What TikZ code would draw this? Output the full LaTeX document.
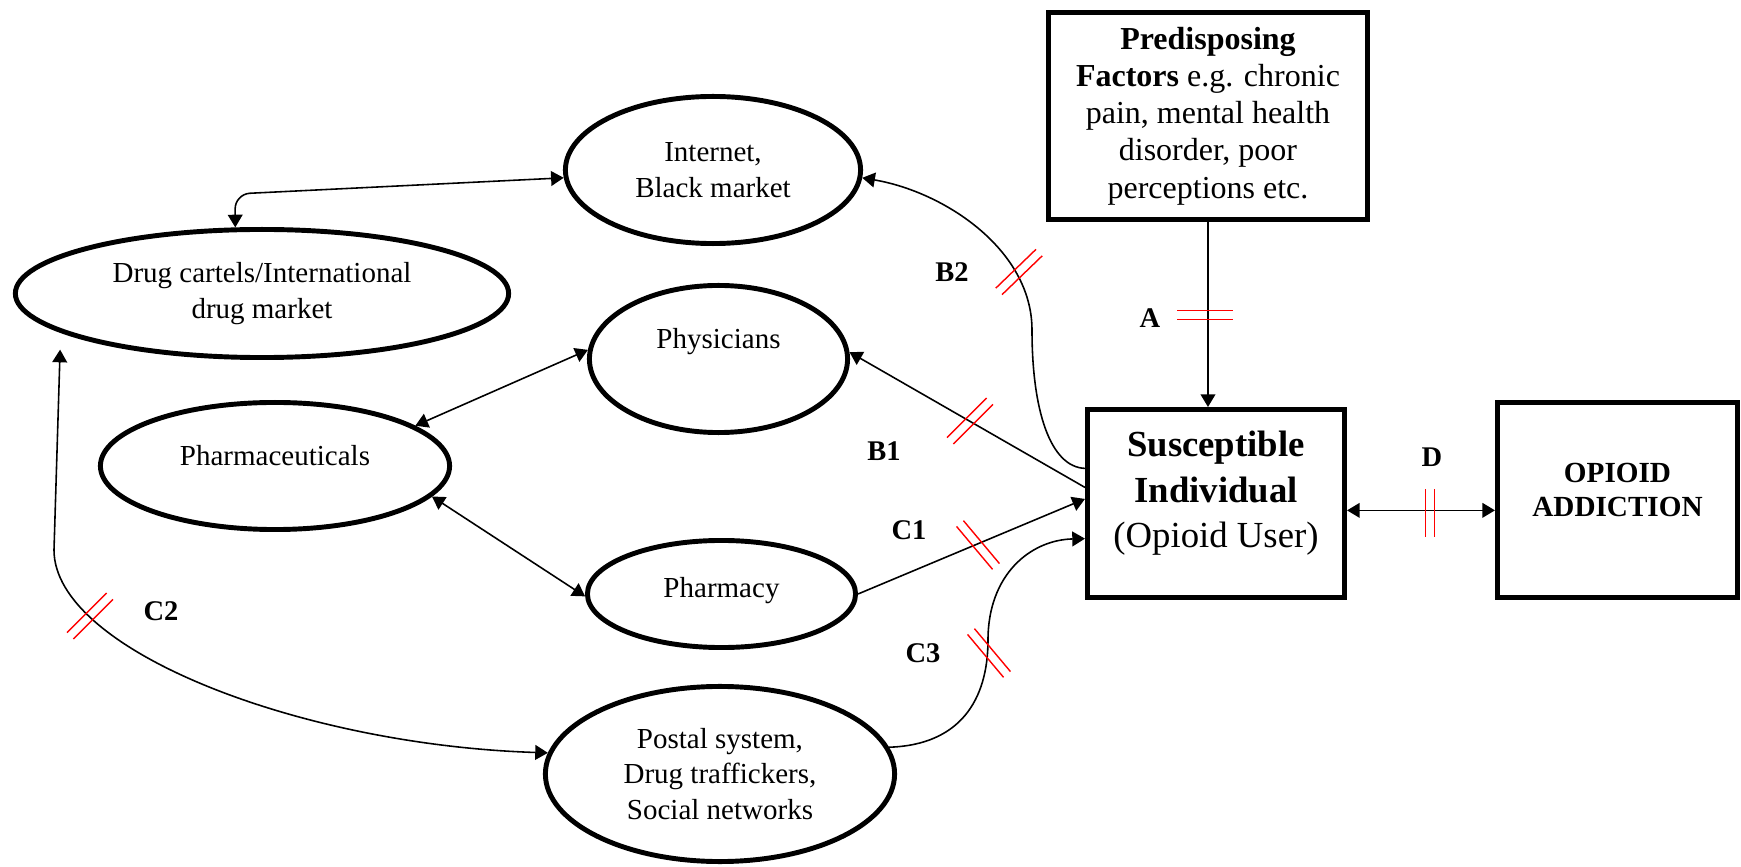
\documentclass[tikz,border=0pt]{standalone}
\usepackage{fontspec}
\setmainfont{Liberation Serif}
\usetikzlibrary{arrows.meta,shapes.geometric,calc}

\newcommand{\cutmark}[4][28]{%
  \draw[cut, shift={(#2,#3)}, rotate=#4] (-#1,-4.5) -- (#1,-4.5) (-#1,4.5) -- (#1,4.5);}

\begin{document}
\begin{tikzpicture}[x=0.01cm, y=-0.01cm,
    oval/.style = {ellipse, draw, line width=1.4pt, inner sep=1pt, align=center,
                   font=\fontsize{8.25}{10.2}\selectfont},
    box/.style = {rectangle, draw, line width=1.4pt, inner sep=1pt, align=center},
    tag/.style = {font=\bfseries\fontsize{8.1}{9.7}\selectfont},
    lift/.style = {text depth=#1},
    link/.style = {line width=0.45pt},
    cut/.style = {red, line width=0.4pt},
    >={Triangle[length=3.6pt, width=4.2pt]}]

  \useasboundingbox (0,0) rectangle (1741,867);

  % boxes
  \node[box, minimum width=3.19cm, minimum height=2.07cm,
        font=\fontsize{9.1}{10.6}\selectfont] (pre) at (1208,116)
        {\textbf{Predisposing}\\ \textbf{Factors} e.g. chronic\\ pain, mental health\\ disorder, poor\\ perceptions etc.};
  \node[box, minimum width=2.57cm, minimum height=1.88cm, lift=0.28cm,
        font=\fontsize{10.45}{12.9}\selectfont] (sus) at (1216,503.5)
        {\textbf{Susceptible}\\ \textbf{Individual}\\ (Opioid User)};
  \node[box, minimum width=2.40cm, minimum height=1.95cm, lift=0.21cm,
        font=\bfseries\fontsize{8.3}{9.7}\selectfont] (add) at (1617.5,500)
        {OPIOID\\ ADDICTION};

  % sources
  \node[oval, minimum width=2.95cm, minimum height=1.47cm] (net) at (713,170) {Internet,\\ Black market};
  \node[oval, minimum width=2.58cm, minimum height=1.47cm, lift=0.42cm] (phys) at (718.5,359) {Physicians};
  \node[oval, minimum width=4.93cm, minimum height=1.28cm] (cartel) at (262,293.5) {Drug cartels/International\\ drug market};
  \node[oval, minimum width=3.49cm, minimum height=1.27cm, lift=0.22cm] (pharma) at (275,466) {Pharmaceuticals};
  \node[oval, minimum width=2.68cm, minimum height=1.07cm, lift=0.14cm] (pharmacy) at (721.5,594) {Pharmacy};
  \node[oval, minimum width=3.49cm, minimum height=1.75cm] (postal) at (720,774) {Postal system,\\ Drug traffickers,\\ Social networks};

  % path labels
  \node[tag] (la) at (1150,318) {A};
  \node[tag] (lb1) at (884,451) {B1};
  \node[tag] (lb2) at (952,272) {B2};
  \node[tag] (lc1) at (909,530) {C1};
  \node[tag] (lc2) at (161,611) {C2};
  \node[tag] (lc3) at (923,653) {C3};
  \node[tag] (ld) at (1432,457) {D};

  % connectors
  \draw[link, ->] (pre.south) -- (pre.south |- sus.north);
  \draw[link, <->] (sus.-3) -- (sus.-3 -| add.west);
  \draw[link, ->] (sus.173) -- (phys.3);
  \draw[link, ->] (sus.165) .. controls (1050,467) and (1032,410) .. (1032,330)
                            .. controls (1032,250) and (945,192) .. (net.357);
  \draw[link, ->] (pharmacy.east) -- (sus.178);
  \draw[link, ->] (postal.9) .. controls (960,745) and (988,700) .. (988,640)
                             .. controls (988,575) and (1030,540) .. (sus.195);
  \draw[link, <->, rounded corners=0.15cm] (net.183) -- (235,194) -- (cartel.112);
  \draw[link, <->] (pharma.16) -- (phys.176);
  \draw[link, <->] (pharma.-11) -- (pharmacy.181);
  \draw[link, <->, shorten <=0.17cm] (cartel.191) -- (54,550)
        .. controls (54,650) and (300,745) .. (postal.173);

  % breaks
  \cutmark{1205}{315}{0}
  \cutmark[24]{1430}{513}{90}
  \cutmark{1019}{272}{44}
  \cutmark{970}{421}{45}
  \cutmark{978}{545}{-50}
  \cutmark{989}{653}{-50}
  \cutmark{90}{616}{45}
\end{tikzpicture}
\end{document}
